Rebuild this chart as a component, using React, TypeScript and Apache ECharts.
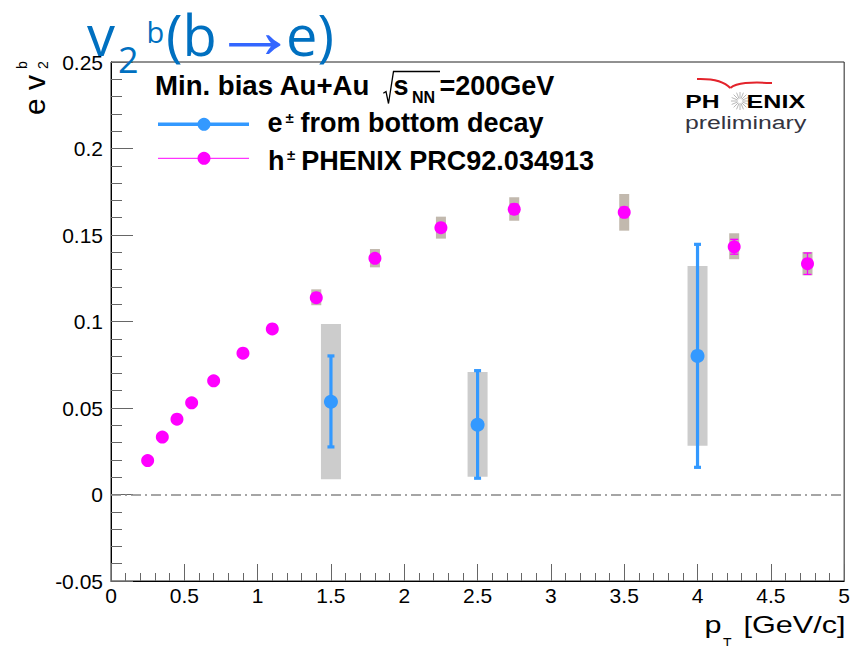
import React, { useEffect, useRef } from 'react';
import * as echarts from 'echarts';

// ---------------- data ----------------
// charged hadrons, PHENIX PRC92.034913
const hadronPt = [0.25, 0.35, 0.45, 0.55, 0.7, 0.9, 1.1, 1.4, 1.8, 2.25, 2.75, 3.5, 4.25, 4.75];
const hadronV2 = [0.0196, 0.0332, 0.0435, 0.053, 0.0657, 0.0817, 0.0957, 0.1138, 0.1365, 0.1542, 0.1649, 0.1631, 0.1432, 0.1334];
const hadronStat = [0.001, 0.001, 0.001, 0.001, 0.001, 0.001, 0.001, 0.0015, 0.002, 0.002, 0.003, 0.003, 0.0043, 0.0062];
const hadronSysLo = [0.018, 0.0315, 0.0418, 0.0512, 0.0638, 0.0797, 0.0935, 0.1094, 0.1313, 0.1479, 0.1583, 0.1525, 0.136, 0.1267];
const hadronSysHi = [0.0212, 0.0349, 0.0452, 0.0548, 0.0676, 0.0837, 0.0979, 0.1186, 0.1419, 0.1606, 0.1718, 0.1737, 0.151, 0.1402];

// electrons from bottom decay
const bottomPt = [1.5, 2.5, 4.0];
const bottomV2 = [0.0536, 0.0403, 0.0801];
const bottomStatLo = [0.0275, 0.0094, 0.0157];
const bottomStatHi = [0.0801, 0.0716, 0.1446];
const bottomSysLo = [0.0088, 0.0103, 0.0282];
const bottomSysHi = [0.0986, 0.0708, 0.1321];

// axes
const xMin = 0, xMax = 5, xStep = 0.5;
const yMin = -0.05, yMax = 0.25, yStep = 0.05;

const legendLabels = ['from bottom decay', 'PHENIX PRC92.034913'];

// ---------------- styles ----------------
const BLUE = '#3399ff';
const PINK = '#ff00ff';
const TITLE_BLUE = '#0070c0';
const SANS = '"Liberation Sans", Arial, sans-serif';
const OPEN = '"Open Sans", sans-serif';

function txt(text: string, x: number, y: number, size: number, o: any = {}) {
  return {
    type: 'text',
    x,
    y,
    z: 100,
    scaleX: o.scaleX ?? 1,
    scaleY: o.scaleY ?? 1,
    style: {
      text,
      fill: o.fill ?? '#000',
      fontSize: size,
      fontFamily: o.family ?? SANS,
      fontWeight: o.weight ?? 'normal',
      align: o.align ?? 'left',
      verticalAlign: 'middle',
      textAlign: o.align ?? 'left',
      textVerticalAlign: 'middle',
    },
  };
}

function buildOption() {
  const hadronSys = hadronPt.map((x, i) => [x, hadronSysLo[i], hadronSysHi[i]]);
  const hadronErr = hadronPt.map((x, i) => [x, hadronV2[i] - hadronStat[i], hadronV2[i] + hadronStat[i]]);
  const bottomSys = bottomPt.map((x, i) => [x, bottomSysLo[i], bottomSysHi[i]]);
  const bottomErr = bottomPt.map((x, i) => [x, bottomStatLo[i], bottomStatHi[i]]);

  const boxRender = (w: number, fill: string) => (params: any, api: any) => {
    const x = api.value(0);
    const p1 = api.coord([x, api.value(2)]);
    const p2 = api.coord([x, api.value(1)]);
    return {
      type: 'rect',
      shape: { x: p1[0] - w / 2, y: p1[1], width: w, height: p2[1] - p1[1] },
      style: { fill },
    };
  };

  const errRender = (cw: number, lw: number, color: string) => (params: any, api: any) => {
    const x = api.value(0);
    const t = api.coord([x, api.value(2)]);
    const b = api.coord([x, api.value(1)]);
    return {
      type: 'group',
      children: [
        { type: 'line', shape: { x1: t[0], y1: t[1], x2: b[0], y2: b[1] }, style: { stroke: color, lineWidth: lw } },
        { type: 'line', shape: { x1: t[0] - cw / 2, y1: t[1], x2: t[0] + cw / 2, y2: t[1] }, style: { stroke: color, lineWidth: lw } },
        { type: 'line', shape: { x1: b[0] - cw / 2, y1: b[1], x2: b[0] + cw / 2, y2: b[1] }, style: { stroke: color, lineWidth: lw } },
      ],
    };
  };

  // PHENIX star
  const star: any[] = [];
  for (let k = 0; k < 16; k++) {
    const a = (k * Math.PI) / 8;
    star.push({
      type: 'line',
      z: 100,
      shape: {
        x1: 740 + 2.5 * Math.cos(a), y1: 101 + 2.5 * Math.sin(a),
        x2: 740 + 9 * Math.cos(a), y2: 101 + 9 * Math.sin(a),
      },
      style: { stroke: '#b0b0b0', lineWidth: 0.9 },
    });
  }

  const graphic: any[] = [
    // title v2^b(b->e)
    txt('v', 87, 34, 56, { family: OPEN, fill: TITLE_BLUE }),
    txt('2', 118, 59.5, 36, { family: OPEN, fill: TITLE_BLUE }),
    txt('b', 146.5, 31, 29, { family: OPEN, fill: TITLE_BLUE }),
    txt('(b', 166, 34, 56, { family: OPEN, fill: TITLE_BLUE }),
    txt('→', 255, 31, 64, { align: 'center', fill: '#3366ff', scaleX: 1.35, scaleY: 1.25 }),
    txt('e)', 286, 34, 56, { family: OPEN, fill: TITLE_BLUE }),

    // y axis title (rotated)
    {
      type: 'group',
      x: 34.6,
      y: 115,
      rotation: Math.PI / 2,
      z: 100,
      children: [
        txt('e v', 0, 0, 30),
        txt('2', 46, 8.5, 14),
        txt('b', 46, -12.5, 14),
      ],
    },

    // x axis title
    txt('p', 704.5, 625, 23, { scaleX: 1.33 }),
    txt('T', 723, 643, 14),
    txt('[GeV/c]', 845.5, 625, 23, { align: 'right', scaleX: 1.33 }),

    // legend header
    txt('Min. bias Au+Au', 155, 85.6, 27.6, { weight: 'bold' }),
    {
      type: 'polyline',
      z: 100,
      shape: { points: [[383.3, 93.3], [386, 91.5], [388.5, 103.5], [393.5, 71.5], [440, 71.5]] },
      style: { stroke: '#000', lineWidth: 1.3, fill: 'none' },
    },
    txt('s', 393.5, 85.6, 27, { weight: 'bold' }),
    txt('NN', 412, 97.8, 16, { weight: 'bold' }),
    txt('=200GeV', 439.5, 85.6, 27, { weight: 'bold' }),

    // legend entry 1
    { type: 'line', z: 100, shape: { x1: 158, y1: 124.3, x2: 249, y2: 124.3 }, style: { stroke: BLUE, lineWidth: 3.5 } },
    { type: 'circle', z: 101, shape: { cx: 204, cy: 124.3, r: 6.5 }, style: { fill: BLUE } },
    txt('e', 267.5, 123.3, 27, { weight: 'bold' }),
    txt('±', 285.5, 117.5, 15, { weight: 'bold' }),
    txt(legendLabels[0], 300.5, 123.3, 27, { weight: 'bold' }),

    // legend entry 2
    { type: 'line', z: 100, shape: { x1: 158, y1: 158.3, x2: 249, y2: 158.3 }, style: { stroke: PINK, lineWidth: 1 } },
    { type: 'circle', z: 101, shape: { cx: 204, cy: 158.3, r: 6.5 }, style: { fill: PINK } },
    txt('h', 268, 160.6, 27, { weight: 'bold' }),
    txt('±', 287, 154.7, 15, { weight: 'bold' }),
    txt(legendLabels[1], 301.3, 160.6, 27, { weight: 'bold' }),

    // PHENIX logo
    {
      type: 'bezierCurve',
      z: 100,
      shape: { x1: 697, y1: 79, cpx1: 713, cpy1: 78.5, cpx2: 724, cpy2: 81, x2: 730.3, y2: 88 },
      style: { stroke: '#e3232b', lineWidth: 2, fill: 'none' },
    },
    {
      type: 'bezierCurve',
      z: 100,
      shape: { x1: 730.3, y1: 88, cpx1: 737, cpy1: 82.5, cpx2: 750, cpy2: 82, x2: 772, y2: 83 },
      style: { stroke: '#e3232b', lineWidth: 2, fill: 'none' },
    },
    ...star,
    txt('PH', 685.3, 101.6, 18.6, { weight: 'bold', scaleX: 1.33 }),
    txt('ENIX', 746.6, 101.6, 18.6, { weight: 'bold', scaleX: 1.35 }),
    txt('preliminary', 685, 123.2, 17.6, { scaleX: 1.41, fill: '#34343f' }),
  ];

  return {
    animation: false,
    backgroundColor: '#fff',
    grid: {
      left: 111,
      top: 62,
      width: 735,
      height: 519,
      show: true,
      borderColor: '#222',
      borderWidth: 1,
      backgroundColor: 'transparent',
    },
    xAxis: {
      type: 'value',
      min: xMin,
      max: xMax,
      interval: xStep,
      axisLine: { show: true, onZero: false, lineStyle: { color: '#000', width: 1 } },
      axisTick: { show: true, inside: true, length: 17, lineStyle: { color: '#666', width: 1 } },
      minorTick: { show: true, splitNumber: 5, length: 8, lineStyle: { color: '#666', width: 1 } },
      splitLine: { show: false },
      axisLabel: { fontFamily: SANS, fontSize: 21, color: '#000', margin: 4 },
    },
    yAxis: {
      type: 'value',
      min: yMin,
      max: yMax,
      interval: yStep,
      axisLine: { show: true, onZero: false, lineStyle: { color: '#000', width: 1 } },
      axisTick: { show: true, inside: true, length: 22, lineStyle: { color: '#666', width: 1 } },
      minorTick: { show: true, splitNumber: 5, length: 11, lineStyle: { color: '#666', width: 1 } },
      splitLine: { show: false },
      axisLabel: { fontFamily: SANS, fontSize: 21, color: '#000', margin: 8 },
    },
    graphic,
    series: [
      {
        type: 'custom',
        name: 'h sys',
        z: 1,
        renderItem: boxRender(10, '#c2b9ae'),
        encode: { x: 0, y: [1, 2] },
        data: hadronSys,
        markLine: {
          silent: true,
          symbol: 'none',
          label: { show: false },
          lineStyle: { color: '#888', width: 1.6, type: [10, 4, 2, 4] },
          data: [{ yAxis: 0 }],
        },
      },
      {
        type: 'custom',
        name: 'b sys',
        z: 1,
        renderItem: boxRender(20, '#cccccc'),
        encode: { x: 0, y: [1, 2] },
        data: bottomSys,
      },
      {
        type: 'custom',
        name: 'h stat',
        z: 2,
        renderItem: errRender(8, 1.3, PINK),
        encode: { x: 0, y: [1, 2] },
        data: hadronErr,
      },
      {
        type: 'custom',
        name: 'b stat',
        z: 2,
        renderItem: errRender(7, 3.2, BLUE),
        encode: { x: 0, y: [1, 2] },
        data: bottomErr,
      },
      {
        type: 'scatter',
        name: 'h± PHENIX PRC92.034913',
        z: 3,
        symbol: 'circle',
        symbolSize: 13,
        itemStyle: { color: PINK, opacity: 1 },
        data: hadronPt.map((x, i) => [x, hadronV2[i]]),
      },
      {
        type: 'scatter',
        name: 'e± from bottom decay',
        z: 3,
        symbol: 'circle',
        symbolSize: 14,
        itemStyle: { color: BLUE, opacity: 1 },
        data: bottomPt.map((x, i) => [x, bottomV2[i]]),
      },
    ],
  };
}

export default function App() {
  const ref = useRef<HTMLDivElement>(null);
  useEffect(() => {
    const chart = echarts.init(ref.current!, null, { renderer: 'svg' });
    chart.setOption(buildOption() as any);
    return () => chart.dispose();
  }, []);
  return (
    <div
      ref={ref}
      style={{ position: 'fixed', left: 0, top: 0, width: 853, height: 646, background: '#fff' }}
    />
  );
}
